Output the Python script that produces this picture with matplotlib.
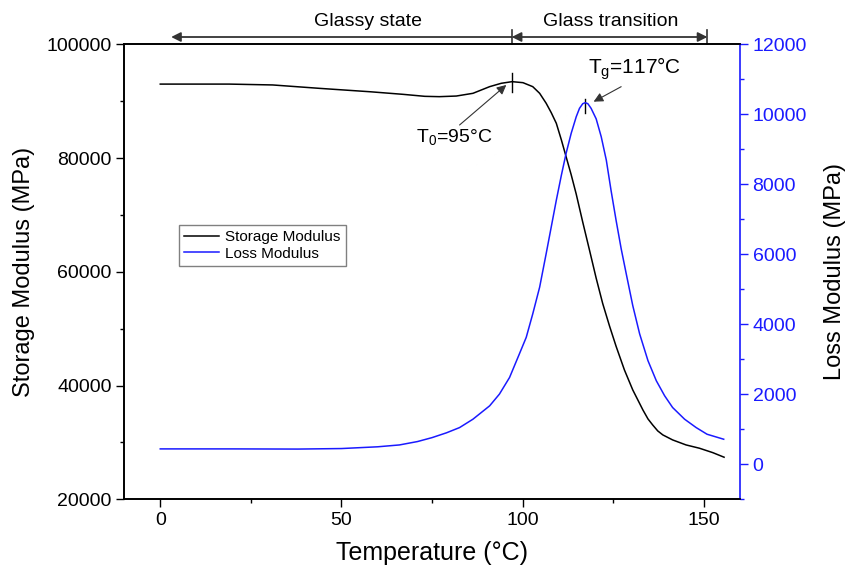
import matplotlib

matplotlib.use("Agg")
import matplotlib.pyplot as plt  # noqa: E402
from matplotlib.ticker import MultipleLocator  # noqa: E402

# Storage modulus (left axis, MPa)
temp_storage = [0, 10, 19, 31, 44, 58, 67, 73, 77, 81.7, 86.3, 90.9, 94.1, 97.1, 100.1,
                102.8, 104.7, 106.5, 107.9, 109.3, 110.7, 112.0, 113.4, 114.8, 116.6,
                118.5, 120.3, 122.1, 124.0, 125.8, 128.1, 130.4, 133.2, 134.6, 135.9,
                137.3, 138.7, 141.4, 145.1, 148.8, 152.5, 155.6]
storage = [93000, 93000, 93000, 92850, 92250, 91650, 91200, 90850, 90790, 90900, 91380,
           92550, 93140, 93430, 93250, 92550, 91380, 89630, 87980, 86110, 83180, 80240,
           77080, 73650, 68720, 63700, 58880, 54430, 50440, 46900, 42740, 39230, 35710,
           34130, 33070, 32020, 31320, 30440, 29560, 28980, 28200, 27400]

# Loss modulus (right axis, MPa)
temp_loss = [0, 20, 38, 50, 60, 66, 71, 75, 79, 82.6, 86.3, 90.9, 93.6, 96.4, 99.1, 101.0,
             102.8, 104.7, 106.5, 107.9, 109.3, 110.7, 112.0, 113.4, 114.8, 115.7, 116.6,
             117.3, 118.0, 118.9, 120.3, 121.7, 123.1, 124.4, 125.8, 127.2, 128.6, 130.4,
             132.3, 134.6, 136.9, 139.2, 141.4, 144.7, 147.9, 150.9, 155.5]
loss = [440, 440, 435, 450, 500, 553, 650, 762, 900, 1049, 1289, 1670, 2005, 2481, 3151,
        3627, 4298, 5060, 6017, 6780, 7543, 8260, 8882, 9454, 9930, 10170, 10303, 10331,
        10303, 10170, 9870, 9357, 8690, 7830, 6970, 6160, 5443, 4535, 3725, 2960, 2387,
        1957, 1622, 1289, 1049, 859, 716]

# Region boundaries (°C) for the header arrows
glassy_start, transition_start, transition_end = 3, 97, 151
t0_x, tg_x = 97.1, 117.3

BLUE = "#1a1aff"

plt.rcParams["font.family"] = ["Liberation Sans", "DejaVu Sans"]
plt.rcParams["mathtext.fontset"] = "custom"
plt.rcParams["mathtext.rm"] = "Liberation Sans"
plt.rcParams["mathtext.default"] = "regular"

fig = plt.figure(figsize=(8.56, 5.67), dpi=100)
ax = fig.add_axes([0.1449, 0.1194, 0.7196, 0.8025])
ax2 = ax.twinx()

ax.plot(temp_storage, storage, color="black", lw=1.1, label="Storage Modulus")
ax2.plot(temp_loss, loss, color=BLUE, lw=1.1, label="Loss Modulus")

ax.set_xlim(-10, 160)
ax.set_ylim(20000, 100000)
ax2.set_ylim(-1000, 12000)

ax.xaxis.set_major_locator(MultipleLocator(50))
ax.xaxis.set_minor_locator(MultipleLocator(25))
ax.yaxis.set_major_locator(MultipleLocator(20000))
ax.yaxis.set_minor_locator(MultipleLocator(10000))
ax2.yaxis.set_major_locator(MultipleLocator(2000))
ax2.yaxis.set_minor_locator(MultipleLocator(1000))

ax.tick_params(which="major", direction="out", length=6, width=1, labelsize=14, pad=3)
ax.tick_params(which="minor", direction="out", length=3, width=1)
ax2.tick_params(which="major", direction="out", length=6, width=1, labelsize=14, pad=3,
                colors=BLUE)
ax2.tick_params(which="minor", direction="out", length=3, width=1, colors=BLUE)

for s in ax.spines.values():
    s.set_linewidth(1.2)
for s in ax2.spines.values():
    s.set_linewidth(1.2)
ax2.spines["right"].set_color(BLUE)
ax.spines["right"].set_visible(False)

ax.set_xlabel("Temperature (°C)", fontsize=18, labelpad=9)
ax.set_ylabel("Storage Modulus (MPa)", fontsize=17, labelpad=8)
ax2.set_ylabel("Loss Modulus (MPa)", fontsize=17, labelpad=12)

# Legend combining both axes
h1, l1 = ax.get_legend_handles_labels()
h2, l2 = ax2.get_legend_handles_labels()
leg = ax.legend(h1 + h2, l1 + l2, loc="upper left", bbox_to_anchor=(0.089, 0.603),
                borderaxespad=0, fontsize=11, fancybox=False, framealpha=1,
                handlelength=2.3, handletextpad=0.4, borderpad=0.35, labelspacing=0.15)
leg.get_frame().set_edgecolor("#808080")
leg.get_frame().set_linewidth(1)

# Peak markers and annotations
ax.plot([t0_x, t0_x], [91670, 94900], color="black", lw=1)
ax.plot([tg_x, tg_x], [87870, 90330], color="black", lw=1)
arrow_kw = dict(arrowstyle="-|>", color="#333333", lw=0.8, mutation_scale=14, shrinkA=0, shrinkB=0)
ax.annotate("", xy=(95.5, 92845), xytext=(82.6, 85810), arrowprops=arrow_kw)
ax.annotate("", xy=(119.6, 89910), xytext=(127.2, 92546), arrowprops=arrow_kw)
ax.text(81.2, 83700, "T$_0$=95°C", fontsize=14, ha="center", va="center")
ax.text(130.9, 95660, "T$_g$=117°C", fontsize=15, ha="center", va="center")

# Header arrows above the plot
hdr = ax.get_xaxis_transform()
yy = 1.016
ax.annotate("", xy=(glassy_start, yy), xytext=(transition_start, yy), xycoords=hdr,
            textcoords=hdr, arrowprops=dict(arrowstyle="-|>", color="#333333", lw=1.3,
                                            mutation_scale=14, shrinkA=0, shrinkB=0))
ax.annotate("", xy=(transition_start, yy), xytext=(transition_end, yy), xycoords=hdr,
            textcoords=hdr, arrowprops=dict(arrowstyle="<|-|>", color="#333333", lw=1.3,
                                            mutation_scale=14, shrinkA=0, shrinkB=0))
for xb in (transition_start, transition_end):
    ax.plot([xb, xb], [1.0, 1.032], transform=hdr, color="#333333", lw=1.2, clip_on=False)
ax.text(57.2, 1.05, "Glassy state", transform=hdr, fontsize=14, ha="center", va="center")
ax.text(124.3, 1.05, "Glass transition", transform=hdr, fontsize=14, ha="center",
        va="center")

fig.savefig("out.png", dpi=100)
